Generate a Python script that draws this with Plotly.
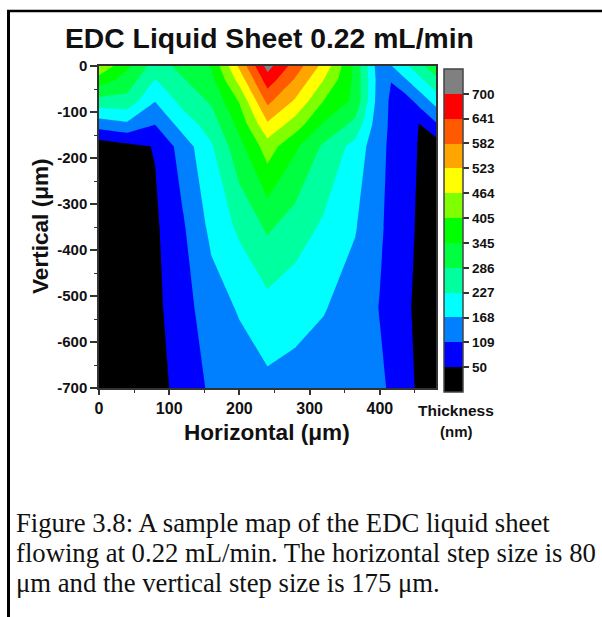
import plotly.graph_objects as go

# Data
x_um = [0, 40, 80, 120, 160, 200, 240, 280, 320, 365, 400, 416, 436, 456, 480]
y_um = [0, -30, -76, -126, -175, -350, -525, -700]
row_0 = [455, 357, 260, 305, 350, 535, 722, 612, 503, 331, 125, 165, 215, 266, 326]
row_30 = [380, 322, 225, 283, 328, 486, 673, 574, 464, 331, 135, 110, 162, 212, 273]
row_76 = [264, 267, 170, 249, 294, 410, 597, 514, 404, 331, 130, 103, 80, 130, 191]
row_126 = [138, 158, 111, 195, 256, 364, 515, 436, 340, 270, 124, 103, 76, 49, 102]
row_175 = [15, 34, 53, 137, 220, 327, 434, 355, 276, 206, 122, 100, 76, 46, 14]
row_350 = [20, 30, 40, 103, 183, 239, 296, 257, 218, 172, 117, 94, 68, 42, 5]
row_525 = [20, 28, 35, 88, 141, 174, 207, 190, 172, 142, 107, 86, 61, 36, 5]
row_700 = [20, 24, 27, 73, 119, 136, 154, 146, 137, 128, 118, 102, 71, 40, 5]
thickness = [row_0, row_30, row_76, row_126, row_175, row_350, row_525, row_700]

level_labels = [50, 109, 168, 227, 286, 345, 405, 464, 523, 582, 641, 700]
band_colors = ["#000000", "#0000ff", "#0080ff", "#00ffff", "#00ff9f", "#00ff40",
               "#00ff00", "#80ff00", "#ffff00", "#ffa500", "#ff5a00", "#ff0000", "#808080"]
x_major = [0, 100, 200, 300, 400]
x_minor = [50, 150, 250, 350, 450]
y_major = [0, -100, -200, -300, -400, -500, -600, -700]
y_minor = [-50, -150, -250, -350, -450, -550, -650]

W, H = 602, 617
step = (700 - 50) / 11
n = len(band_colors)
cs = []
for i, c in enumerate(band_colors):
    cs += [[i / n, c], [(i + 1) / n, c]]

BLD = "Liberation Sans"
INK = "#111111"
fig = go.Figure(go.Contour(
    x=x_um, y=y_um, z=thickness,
    autocontour=False,
    contours=dict(start=50, end=700, size=step, coloring="fill", showlines=False),
    line=dict(width=0, smoothing=0),
    colorscale=cs, zmin=50 - step, zmax=700 + step, zauto=False,
    hoverinfo="skip",
    colorbar=dict(
        x=443.5 / W, xanchor="left", thickness=19, thicknessmode="pixels",
        len=323 / H, lenmode="fraction", y=1 - 69 / H, yanchor="top",
        tickmode="array", tickvals=level_labels, ticktext=[f"<b>{v}</b>" for v in level_labels],
        ticks="outside", ticklen=6, tickwidth=1.5, tickcolor="#333333",
        tickfont=dict(family=BLD, size=13.5, color=INK),
        outlinecolor="#444444", outlinewidth=1.5, borderwidth=0, xpad=0, ypad=0,
    ),
))

def axis_common(major_vals, minor_vals, tick_size, tick_len):
    return dict(showgrid=False, zeroline=False, showline=True, linewidth=1.5, linecolor="#333333",
                ticks="outside", tickcolor="#333333", tickwidth=1.5, ticklen=tick_len, tickmode="array",
                tickvals=major_vals, ticktext=[f"<b>{v}</b>" for v in major_vals],
                minor=dict(tickmode="array", tickvals=minor_vals, ticks="outside", ticklen=3,
                           tickcolor="#333333", tickwidth=1.2, showgrid=False),
                tickfont=dict(family=BLD, size=tick_size, color=INK), mirror=True, automargin=False)

fig.update_xaxes(range=[0, 480], domain=[99 / W, 436 / W], **axis_common(x_major, x_minor, 16, 5))
fig.update_yaxes(range=[-700, 0], domain=[1 - 388 / H, 1 - 66 / H], **axis_common(y_major, y_minor, 15, 7))

def px(x, y):
    return dict(xref="paper", yref="paper", x=x / W, y=1 - y / H)

caption = ["Figure 3.8: A sample map of the EDC liquid sheet",
           "flowing at 0.22 mL/min. The horizontal step size is 80",
           "μm and the vertical step size is 175 μm."]
ann = [
    dict(text="<b>EDC Liquid Sheet 0.22 mL/min</b>", **px(269, 38), showarrow=False,
         font=dict(family=BLD, size=28.3, color=INK), xanchor="center", yanchor="middle"),
    dict(text="<b>Horizontal (μm)</b>", **px(267, 432), showarrow=False,
         font=dict(family=BLD, size=22.6, color=INK), xanchor="center", yanchor="middle"),
    dict(text="<b>Vertical (μm)</b>", **px(41, 226), showarrow=False, textangle=-90,
         font=dict(family=BLD, size=22.6, color=INK), xanchor="center", yanchor="middle"),
    dict(text="<b>Thickness</b>", **px(456, 410), showarrow=False,
         font=dict(family=BLD, size=15.5, color=INK), xanchor="center", yanchor="middle"),
    dict(text="<b>(nm)</b>", **px(456, 431), showarrow=False,
         font=dict(family=BLD, size=15, color=INK), xanchor="center", yanchor="middle"),
]
for line, yy in zip(caption, [522.5, 552.5, 582.5]):
    ann.append(dict(text=line, **px(14, yy), showarrow=False, xanchor="left", yanchor="middle",
                    font=dict(family="Liberation Serif", size=26.7, color=INK)))

frame = [
    dict(type="line", xref="paper", yref="paper", x0=8.5 / W, x1=8.5 / W, y0=0, y1=1 - 10 / H,
         line=dict(color="black", width=3)),
    dict(type="line", xref="paper", yref="paper", x0=7 / W, x1=1, y0=1 - 11 / H, y1=1 - 11 / H,
         line=dict(color="black", width=2.5)),
]
fig.update_layout(width=W, height=H, margin=dict(l=0, r=0, t=0, b=0, autoexpand=False), autosize=False,
                  paper_bgcolor="white", plot_bgcolor="white", annotations=ann, shapes=frame,
                  showlegend=False)
fig.write_html("out.html", config=dict(displayModeBar=False),
               post_script="document.body.style.margin='0';document.documentElement.style.overflow='hidden';")
